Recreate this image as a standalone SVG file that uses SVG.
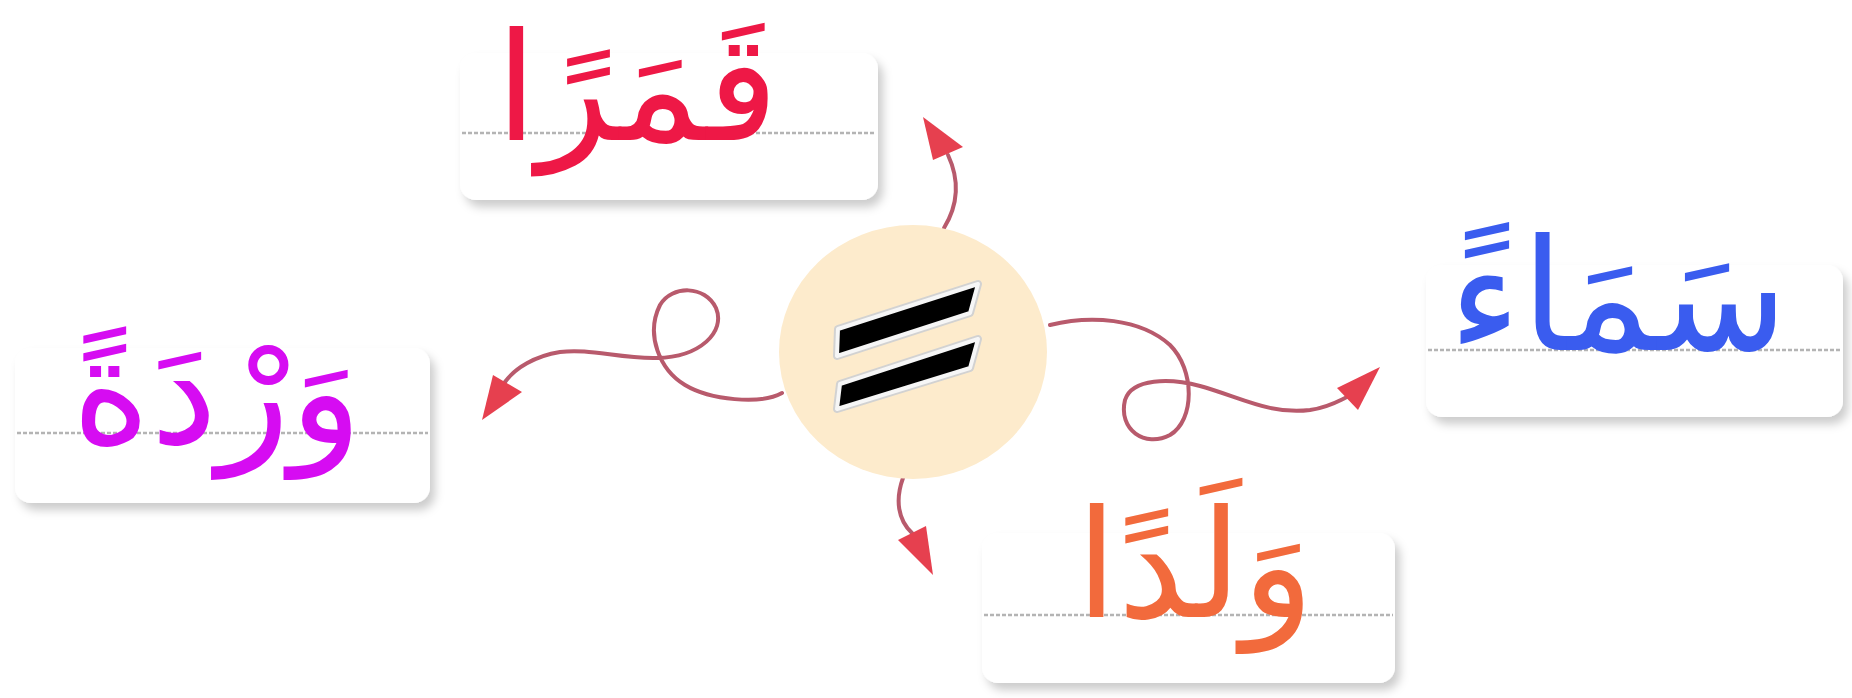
<svg xmlns="http://www.w3.org/2000/svg" width="1852" height="698" viewBox="0 0 1852 698">
<defs>
<filter id="sh" x="-10%" y="-10%" width="130%" height="140%">
<feDropShadow dx="5" dy="7" stdDeviation="5" flood-color="#000" flood-opacity="0.2"/>
</filter>
<style>
.box{fill:#fff;filter:url(#sh)}
.rule{stroke:#b4b4b4;stroke-width:2.5;stroke-dasharray:4 2;fill:none}
.word{font-family:"DejaVu Sans",sans-serif;font-size:150px;text-anchor:middle}
.conn{fill:none;stroke:#b85a6c;stroke-width:4;stroke-linecap:round}
.head{fill:#e6404f}
.bar{fill:#000;stroke:#f6f6f6;stroke-width:4;stroke-linejoin:round}
.barout{fill:none;stroke:#d2d2d2;stroke-width:8;stroke-linejoin:round}
</style>
</defs>
<rect width="1852" height="698" fill="#fff"/>

<g id="connectors">
<path class="conn" d="M782,393 C760,405 710,400 685,385 C660,370 645,335 660,305 C672,285 705,285 716,308 C726,332 700,357 657,358 C620,359 590,348 560,352 C535,356 515,368 505,382"/>
<polygon class="head" points="482,420 493,375 522,392"/>
<path class="conn" d="M1050,325 C1090,315 1140,318 1170,345 C1195,370 1195,420 1170,435 C1145,448 1118,430 1125,400 C1132,378 1170,378 1200,386 C1240,397 1270,415 1310,410 C1330,407 1340,400 1347,397"/>
<polygon class="head" points="1380,367 1337,388 1358,410"/>
<path class="conn" d="M944,228 C955,210 962,185 948,155"/>
<polygon class="head" points="923,117 933,160 963,147"/>
<path class="conn" d="M903,478 C895,500 898,520 912,533"/>
<polygon class="head" points="933,575 898,540 926,526"/>
</g>

<g id="center">
<ellipse cx="913" cy="352" rx="134" ry="127" fill="#fdebcc"/>
<polygon class="barout" points="838,329 978,284 970,313 837,356"/>
<polygon class="barout" points="840,384 978,339 970,368 837,409"/>
<polygon class="bar" points="838,329 978,284 970,313 837,356"/>
<polygon class="bar" points="840,384 978,339 970,368 837,409"/>
</g>

<g id="node-top">
<rect class="box" x="460" y="53" width="418" height="147" rx="16"/>
<line class="rule" x1="462" y1="133" x2="876" y2="133"/>
<text class="word" x="637" y="140" fill="#ee1846">قَمَرًا</text>
</g>

<g id="node-left">
<rect class="box" x="15" y="348" width="415" height="155" rx="16"/>
<line class="rule" x1="17" y1="433" x2="428" y2="433"/>
<text class="word" x="217" y="443" fill="#d60cf2">وَرْدَةً</text>
</g>

<g id="node-right">
<rect class="box" x="1426" y="265" width="417" height="152" rx="16"/>
<line class="rule" x1="1428" y1="350" x2="1841" y2="350"/>
<text class="word" x="1618" y="350" fill="#3a5cef" style="font-size:155px">سَمَاءً</text>
</g>

<g id="node-bottom">
<rect class="box" x="982" y="533" width="413" height="150" rx="16"/>
<line class="rule" x1="984" y1="615" x2="1393" y2="615"/>
<text class="word" x="1195" y="617" fill="#f26a3c">وَلَدًا</text>
</g>
</svg>
